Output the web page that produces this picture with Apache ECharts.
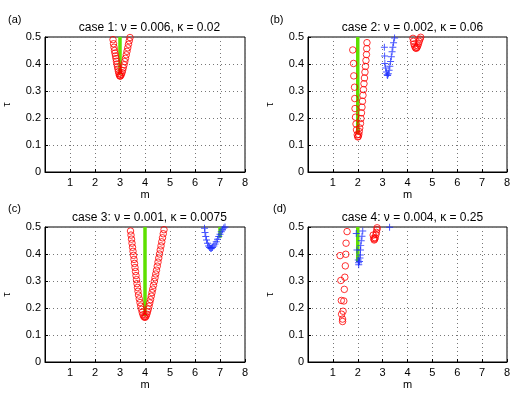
<!DOCTYPE html>
<html>
<head>
<meta charset="utf-8">
<script src="https://cdn.jsdelivr.net/npm/echarts@6/dist/echarts.min.js"></script>
<style>
  html, body { margin: 0; padding: 0; background: #fff; }
  #main { width: 517px; height: 396px; }
</style>
</head>
<body>
<div id="main"></div>
<script>
// tick labels
var xTicks = [0, 1, 2, 3, 4, 5, 6, 7, 8];
var yTicks = [0, 0.1, 0.2, 0.3, 0.4, 0.5];
var titles = ['case 1: ν = 0.006, κ = 0.02', 'case 2: ν = 0.002, κ = 0.06',
  'case 3: ν = 0.001, κ = 0.0075', 'case 4: ν = 0.004, κ = 0.25'];
var panelTags = ['(a)', '(b)', '(c)', '(d)'];

// case 1
var case1Green = [[3, 0.36], [3, 0.5]];
var case1Red = [
  [2.72, 0.49], [2.74, 0.475], [2.76, 0.462], [2.78, 0.45], [2.8, 0.44], [2.82, 0.43],
  [2.84, 0.42], [2.86, 0.41], [2.88, 0.4], [2.9, 0.39], [2.92, 0.381], [2.94, 0.372],
  [2.96, 0.364], [2.98, 0.358], [3.0, 0.355], [3.02, 0.356], [3.05, 0.361], [3.08, 0.368],
  [3.1, 0.376], [3.13, 0.386], [3.16, 0.397], [3.19, 0.409], [3.22, 0.421], [3.25, 0.434],
  [3.28, 0.447], [3.31, 0.46], [3.34, 0.473], [3.37, 0.486], [3.4, 0.498]
];

// case 2
var case2Green = [[2, 0.14], [2, 0.5]];
var case2Red = [
  [1.8, 0.452], [1.83, 0.402], [1.84, 0.356], [1.87, 0.314], [1.88, 0.272], [1.89, 0.235],
  [1.91, 0.203], [1.93, 0.178], [1.95, 0.156], [1.98, 0.138], [2.0, 0.13],
  [2.37, 0.479], [2.36, 0.457], [2.35, 0.435], [2.33, 0.413], [2.31, 0.391], [2.29, 0.37],
  [2.27, 0.348], [2.25, 0.327], [2.23, 0.305], [2.21, 0.284], [2.19, 0.262], [2.17, 0.24],
  [2.15, 0.219], [2.13, 0.198], [2.11, 0.18], [2.08, 0.163], [2.06, 0.15], [2.04, 0.139],
  [2.02, 0.132],
  [4.22, 0.495], [4.24, 0.484], [4.26, 0.474], [4.29, 0.466], [4.32, 0.46], [4.35, 0.458],
  [4.38, 0.461], [4.41, 0.467], [4.44, 0.475], [4.47, 0.484], [4.5, 0.492], [4.53, 0.499]
];
var case2Blue = [
  [3.07, 0.462], [3.08, 0.43], [3.09, 0.402], [3.12, 0.385], [3.15, 0.37], [3.18, 0.36],
  [3.2, 0.357], [3.23, 0.364], [3.26, 0.377], [3.29, 0.392], [3.32, 0.409], [3.35, 0.427],
  [3.38, 0.445], [3.41, 0.462], [3.44, 0.479], [3.48, 0.496]
];

// case 3
var case3Green = [[4, 0.17], [4, 0.5]];
var case3GreenB = [[7, 0.46], [7, 0.5]];
var case3Red = [
  [3.42, 0.485], [3.44, 0.47], [3.46, 0.455], [3.48, 0.44], [3.5, 0.425], [3.52, 0.41],
  [3.54, 0.395], [3.56, 0.38], [3.58, 0.365], [3.6, 0.35], [3.62, 0.335], [3.64, 0.32],
  [3.66, 0.305], [3.68, 0.29], [3.7, 0.276], [3.72, 0.262], [3.74, 0.248], [3.77, 0.234],
  [3.8, 0.22], [3.83, 0.207], [3.86, 0.195], [3.89, 0.184], [3.92, 0.175], [3.95, 0.169],
  [3.98, 0.166],
  [4.01, 0.166], [4.04, 0.17], [4.07, 0.177], [4.1, 0.186], [4.13, 0.196], [4.16, 0.207],
  [4.19, 0.219], [4.22, 0.231], [4.25, 0.244], [4.28, 0.257], [4.31, 0.27], [4.34, 0.284],
  [4.37, 0.298], [4.4, 0.312], [4.43, 0.326], [4.46, 0.34], [4.49, 0.355], [4.52, 0.37],
  [4.55, 0.385], [4.58, 0.4], [4.61, 0.415], [4.64, 0.43], [4.67, 0.445], [4.7, 0.46],
  [4.73, 0.475], [4.76, 0.49]
];
var case3Blue = [
  [6.38, 0.495], [6.4, 0.48], [6.43, 0.465], [6.46, 0.452], [6.5, 0.44], [6.54, 0.43],
  [6.58, 0.424], [6.62, 0.421], [6.66, 0.421], [6.7, 0.424], [6.75, 0.43], [6.8, 0.437],
  [6.85, 0.445], [6.9, 0.455], [6.95, 0.465], [7.0, 0.473], [7.05, 0.482], [7.1, 0.49],
  [7.15, 0.496], [7.2, 0.5]
];

// case 4
var case4Green = [[2, 0.37], [2, 0.5]];
var case4Red = [
  [1.57, 0.483], [1.53, 0.44], [1.29, 0.394], [1.52, 0.399], [1.5, 0.356], [1.48, 0.314],
  [1.32, 0.302], [1.46, 0.269], [1.34, 0.228], [1.44, 0.226], [1.41, 0.188], [1.35, 0.177],
  [1.39, 0.159], [1.39, 0.15],
  [2.62, 0.47], [2.64, 0.458], [2.66, 0.452], [2.68, 0.455], [2.7, 0.46], [2.73, 0.472],
  [2.75, 0.48], [2.77, 0.49], [2.78, 0.497]
];
var case4Blue = [
  [1.94, 0.476], [1.97, 0.415], [2.02, 0.378], [2.03, 0.368], [2.04, 0.36],
  [2.2, 0.485], [2.17, 0.466], [2.14, 0.449], [2.12, 0.431], [2.11, 0.415], [2.1, 0.396],
  [2.09, 0.385], [2.07, 0.372], [3.28, 0.499]
];

var RED = '#ff0000', BLUE = '#1a2cff', GREEN = '#5ee000';
var plusPath = 'path://M-1,-0.14H-0.14V-1H0.14V-0.14H1V0.14H0.14V1H-0.14V0.14H-1Z';
var font = 'Liberation Sans, Arial, sans-serif';

var boxes = [
  { left: 44, top: 37, width: 201, height: 135 },
  { left: 308, top: 37, width: 199, height: 135 },
  { left: 44, top: 227, width: 201, height: 135 },
  { left: 308, top: 227, width: 199, height: 135 }
];

var grids = [], xAxes = [], yAxes = [], titleList = [];
boxes.forEach(function (b, i) {
  grids.push({ left: b.left, top: b.top, width: b.width, height: b.height,
    show: true, borderColor: '#000', borderWidth: 1, backgroundColor: '#fff', containLabel: false });
  xAxes.push({
    gridIndex: i, type: 'value', min: xTicks[0], max: xTicks[xTicks.length - 1], interval: 1,
    name: 'm', nameLocation: 'middle', nameGap: 17,
    nameTextStyle: { color: '#000', fontSize: 11, fontFamily: font },
    axisLine: { show: true, onZero: false, lineStyle: { color: '#000' } },
    axisTick: { show: true, inside: true, length: 3, lineStyle: { color: '#000' } },
    axisLabel: { color: '#000', fontSize: 11, fontFamily: font, margin: 5,
      formatter: function (v) { return v === 0 ? '' : String(v); } },
    splitLine: { show: true, lineStyle: { color: '#777', type: [1, 3] } }
  });
  yAxes.push({
    gridIndex: i, type: 'value', min: yTicks[0], max: yTicks[yTicks.length - 1], interval: 0.1,
    name: 'τ', nameLocation: 'middle', nameGap: 33,
    nameTextStyle: { color: '#000', fontSize: 11, fontFamily: font },
    axisLine: { show: true, onZero: false, lineStyle: { color: '#000' } },
    axisTick: { show: true, inside: true, length: 3, lineStyle: { color: '#000' } },
    axisLabel: { color: '#000', fontSize: 11, fontFamily: font, margin: 4,
      formatter: function (v) { return String(Math.round(v * 10) / 10); } },
    splitLine: { show: true, lineStyle: { color: '#777', type: [1, 3] } }
  });
  titleList.push({
    text: titles[i], left: b.left + b.width / 2, top: b.top - 20, textAlign: 'center',
    textStyle: { color: '#000', fontSize: 12, fontWeight: 'normal', fontFamily: font }
  });
});
titleList.push(
  { text: panelTags[0], left: 3, top: 9, textStyle: { color: '#000', fontSize: 11, fontWeight: 'normal', fontFamily: font } },
  { text: panelTags[1], left: 265, top: 9, textStyle: { color: '#000', fontSize: 11, fontWeight: 'normal', fontFamily: font } },
  { text: panelTags[2], left: 3, top: 198, textStyle: { color: '#000', fontSize: 11, fontWeight: 'normal', fontFamily: font } },
  { text: panelTags[3], left: 268, top: 198, textStyle: { color: '#000', fontSize: 11, fontWeight: 'normal', fontFamily: font } }
);

function greenLine(idx, data) {
  return { type: 'line', xAxisIndex: idx, yAxisIndex: idx, data: data, symbol: 'none',
    lineStyle: { color: GREEN, width: 3.5 }, silent: true, z: 2 };
}
function redCircles(idx, data) {
  return { type: 'scatter', xAxisIndex: idx, yAxisIndex: idx, data: data, symbol: 'circle',
    symbolSize: 6.5, itemStyle: { color: 'rgba(0,0,0,0)', borderColor: RED, borderWidth: 1 },
    silent: true, z: 3 };
}
function bluePlus(idx, data) {
  return { type: 'scatter', xAxisIndex: idx, yAxisIndex: idx, data: data, symbol: plusPath,
    symbolSize: 7, itemStyle: { color: BLUE }, silent: true, z: 4 };
}

var series = [
  greenLine(0, case1Green), redCircles(0, case1Red),
  greenLine(1, case2Green), redCircles(1, case2Red), bluePlus(1, case2Blue),
  greenLine(2, case3Green), greenLine(2, case3GreenB), redCircles(2, case3Red), bluePlus(2, case3Blue),
  greenLine(3, case4Green), redCircles(3, case4Red), bluePlus(3, case4Blue)
];

var chart = echarts.init(document.getElementById('main'), null, { renderer: 'canvas' });
chart.setOption({
  animation: false,
  backgroundColor: '#fff',
  title: titleList,
  grid: grids,
  xAxis: xAxes,
  yAxis: yAxes,
  series: series
});
</script>
</body>
</html>
